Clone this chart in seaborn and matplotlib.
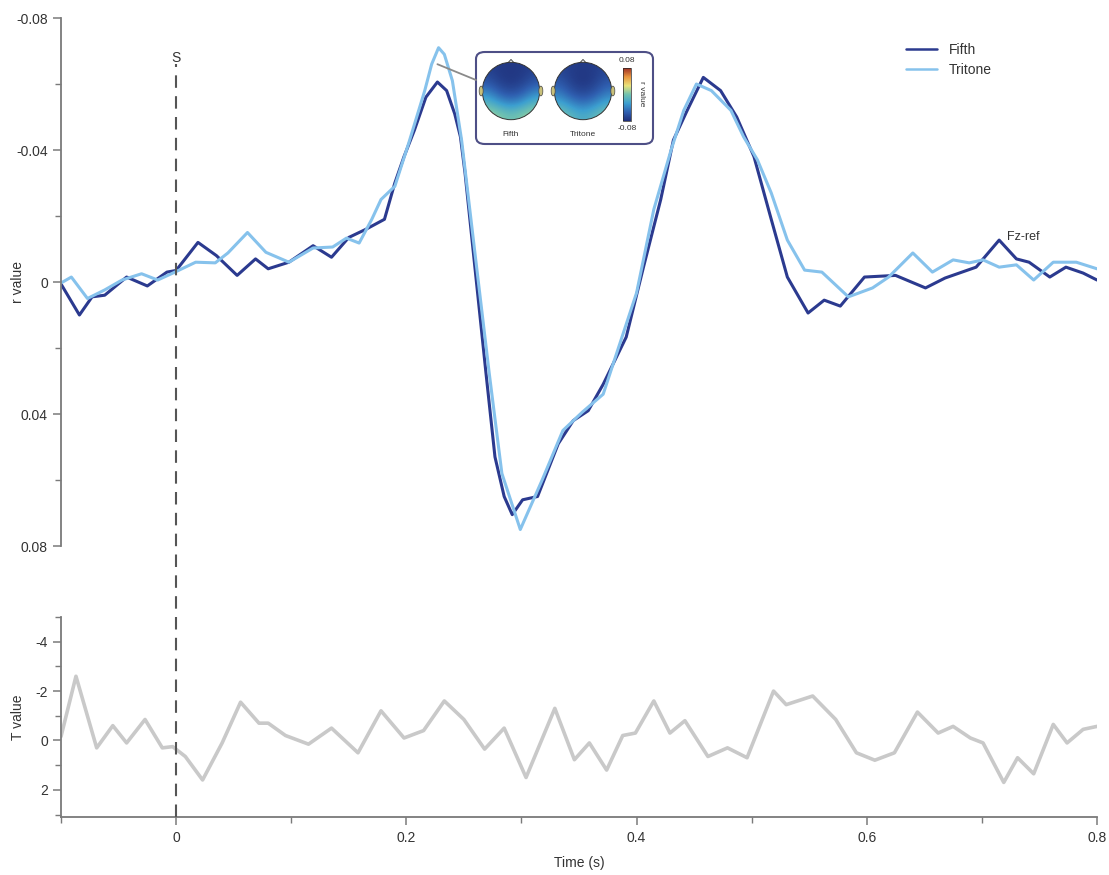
import matplotlib.pyplot as plt
import seaborn as sns
import numpy as np
import pandas as pd
from matplotlib.patches import FancyBboxPatch, Circle, Ellipse, Polygon
from matplotlib.lines import Line2D
from matplotlib.colors import LinearSegmentedColormap
from matplotlib.cm import ScalarMappable
from matplotlib.colors import Normalize

# r value curves
fifth_t = [-0.100, -0.084, -0.073, -0.062, -0.043, -0.025, -0.008, 0.000, 0.019, 0.035,
           0.053, 0.069, 0.080, 0.098, 0.119, 0.135, 0.150, 0.165, 0.181, 0.190,
           0.198, 0.207, 0.217, 0.227, 0.235, 0.242, 0.247, 0.251, 0.260, 0.269,
           0.277, 0.285, 0.292, 0.301, 0.314, 0.332, 0.345, 0.358, 0.371, 0.391,
           0.406, 0.421, 0.432, 0.444, 0.458, 0.473, 0.487, 0.502, 0.517, 0.531,
           0.549, 0.563, 0.577, 0.598, 0.625, 0.651, 0.668, 0.695, 0.715, 0.730,
           0.741, 0.759, 0.773, 0.788, 0.800]
fifth_r = [0.0006, 0.010, 0.0045, 0.004, -0.0015, 0.0012, -0.003, -0.0035, -0.012, -0.008,
           -0.002, -0.007, -0.004, -0.006, -0.011, -0.0075, -0.0135, -0.016, -0.019, -0.030,
           -0.038, -0.046, -0.056, -0.0606, -0.058, -0.051, -0.044, -0.033, -0.003, 0.027,
           0.053, 0.065, 0.0705, 0.066, 0.065, 0.049, 0.042, 0.039, 0.031, 0.0167,
           -0.0045, -0.025, -0.043, -0.052, -0.062, -0.058, -0.050, -0.038, -0.019, -0.0015,
           0.0094, 0.0055, 0.0073, -0.0015, -0.002, 0.0018, -0.0012, -0.0045, -0.0127, -0.007,
           -0.006, -0.0015, -0.0045, -0.0027, -0.0006]

tritone_t = [-0.100, -0.091, -0.077, -0.062, -0.047, -0.030, -0.016, -0.001, 0.017, 0.034,
             0.045, 0.062, 0.078, 0.098, 0.119, 0.136, 0.148, 0.159, 0.170, 0.178,
             0.190, 0.202, 0.216, 0.222, 0.228, 0.233, 0.240, 0.248, 0.260, 0.272,
             0.283, 0.299, 0.318, 0.336, 0.353, 0.371, 0.388, 0.400, 0.415, 0.430,
             0.441, 0.452, 0.465, 0.482, 0.493, 0.505, 0.517, 0.531, 0.546, 0.561,
             0.584, 0.605, 0.619, 0.640, 0.657, 0.675, 0.689, 0.701, 0.715, 0.730,
             0.745, 0.762, 0.782, 0.800]
tritone_r = [0.0003, -0.0015, 0.005, 0.0024, -0.0006, -0.0025, -0.0006, -0.003, -0.006, -0.0058,
             -0.0088, -0.015, -0.009, -0.006, -0.0103, -0.0106, -0.0133, -0.0118, -0.019, -0.025,
             -0.029, -0.042, -0.058, -0.066, -0.071, -0.069, -0.061, -0.043, -0.0076, 0.0276,
             0.058, 0.075, 0.060, 0.045, 0.0394, 0.034, 0.016, 0.0033, -0.022, -0.040,
             -0.052, -0.060, -0.058, -0.052, -0.044, -0.037, -0.027, -0.0127, -0.0036, -0.003,
             0.0045, 0.0018, -0.0015, -0.0088, -0.003, -0.0067, -0.0058, -0.0067, -0.0045, -0.0052,
             -0.0006, -0.006, -0.006, -0.004]

# T value curve
tval_t = [-0.100, -0.087, -0.069, -0.055, -0.043, -0.027, -0.012, -0.003, 0.008, 0.023,
          0.040, 0.056, 0.072, 0.080, 0.095, 0.115, 0.135, 0.158, 0.178, 0.198,
          0.215, 0.233, 0.250, 0.268, 0.285, 0.304, 0.329, 0.346, 0.359, 0.374,
          0.388, 0.399, 0.415, 0.429, 0.442, 0.462, 0.479, 0.496, 0.519, 0.530,
          0.553, 0.573, 0.591, 0.607, 0.624, 0.644, 0.662, 0.675, 0.690, 0.701,
          0.719, 0.731, 0.745, 0.762, 0.774, 0.788, 0.800]
tval = [-0.16, -2.6, 0.3, -0.6, 0.1, -0.85, 0.3, 0.25, 0.65, 1.6,
        0.1, -1.55, -0.7, -0.7, -0.2, 0.15, -0.5, 0.5, -1.2, -0.1,
        -0.4, -1.6, -0.85, 0.35, -0.5, 1.5, -1.3, 0.78, 0.1, 1.2,
        -0.2, -0.3, -1.6, -0.3, -0.8, 0.65, 0.3, 0.7, -2.0, -1.45,
        -1.8, -0.85, 0.5, 0.8, 0.5, -1.15, -0.3, -0.57, -0.1, 0.1,
        1.7, 0.7, 1.35, -0.65, 0.1, -0.45, -0.57]

# topographic maps (rough r values, rows front -> back)
topo_fifth = [[-0.070, -0.074, -0.075, -0.074, -0.070],
              [-0.062, -0.072, -0.076, -0.072, -0.062],
              [-0.040, -0.058, -0.066, -0.058, -0.040],
              [-0.012, -0.030, -0.040, -0.030, -0.012],
              [0.015, 0.006, -0.004, 0.006, 0.015]]
topo_tritone = [[-0.068, -0.072, -0.074, -0.072, -0.068],
                [-0.060, -0.072, -0.077, -0.072, -0.060],
                [-0.045, -0.062, -0.070, -0.062, -0.045],
                [-0.022, -0.038, -0.048, -0.038, -0.022],
                [0.004, -0.010, -0.020, -0.010, 0.004]]

c_fifth = '#2b3a8f'
c_tritone = '#86c2ec'
c_t = '#c9c9c9'
c_axis = '#7a7a7a'
c_text = '#333333'

sns.set_theme(style='white')
plt.rcParams['font.family'] = ['Liberation Sans', 'DejaVu Sans']
plt.rcParams['axes.unicode_minus'] = False

W, H = 1109, 875
fig = plt.figure(figsize=(W / 100, H / 100), dpi=100)


def px_axes(x0, y0, x1, y1):
    return fig.add_axes([x0 / W, 1 - y1 / H, (x1 - x0) / W, (y1 - y0) / H])


ax_top = px_axes(61, 18, 1097, 546)
ax_bot = px_axes(61, 617, 1097, 817)

df_r = pd.DataFrame({
    'time': fifth_t + tritone_t,
    'r': fifth_r + tritone_r,
    'condition': ['Fifth'] * len(fifth_t) + ['Tritone'] * len(tritone_t),
})
sns.lineplot(data=df_r, x='time', y='r', hue='condition',
             palette={'Fifth': c_fifth, 'Tritone': c_tritone},
             estimator=None, sort=True, lw=2.2, ax=ax_top)

df_t = pd.DataFrame({'time': tval_t, 'T': tval})
sns.lineplot(data=df_t, x='time', y='T', color=c_t, lw=2.6, estimator=None, ax=ax_bot)

for ax in (ax_top, ax_bot):
    ax.set_xlim(-0.1, 0.8)
    sns.despine(ax=ax, top=True, right=True)
    ax.spines['left'].set_color(c_axis)
    ax.spines['left'].set_linewidth(1.3)
    ax.tick_params(axis='both', which='both', direction='out', color=c_axis,
                   labelcolor=c_text, labelsize=10, left=True, bottom=True)
    ax.tick_params(which='major', length=6, width=1.1)
    ax.tick_params(which='minor', length=4, width=1.0)
    ax.set_facecolor('none')

# top panel
ax_top.set_ylim(0.08, -0.08)
ax_top.set_yticks([-0.08, -0.04, 0, 0.04, 0.08])
ax_top.set_yticklabels(['-0.08', '-0.04', '0', '0.04', '0.08'])
ax_top.set_yticks([-0.06, -0.02, 0.02, 0.06], minor=True)
ax_top.spines['bottom'].set_visible(False)
ax_top.set_xticks([])
ax_top.set_xlabel('')
ax_top.set_ylabel('r value', fontsize=10, color=c_text)
ax_top.yaxis.set_label_coords(-0.035, 0.5)
ax_top.text(0.722, -0.0135, 'Fz-ref', fontsize=9, color=c_text, ha='left', va='center')

handles = [Line2D([], [], color=c_fifth, lw=1.8), Line2D([], [], color=c_tritone, lw=1.8)]
ax_top.legend(handles, ['Fifth', 'Tritone'], loc='upper left',
              bbox_to_anchor=(893 / W, 1 - 30 / H), bbox_transform=fig.transFigure,
              frameon=False, fontsize=10, handlelength=2.3, labelspacing=0.45,
              labelcolor=c_text)

# bottom panel
ax_bot.set_ylim(3.1, -5.0)
ax_bot.set_yticks([-4, -2, 0, 2])
ax_bot.set_yticklabels(['-4', '-2', '0', '2'])
ax_bot.set_yticks([-5, -3, -1, 1, 3], minor=True)
ax_bot.spines['bottom'].set_color(c_axis)
ax_bot.spines['bottom'].set_linewidth(1.3)
ax_bot.set_xticks([0, 0.2, 0.4, 0.6, 0.8])
ax_bot.set_xticklabels(['0', '0.2', '0.4', '0.6', '0.8'])
ax_bot.set_xticks([-0.1, 0.1, 0.3, 0.5, 0.7], minor=True)
ax_bot.set_xlabel('Time (s)', fontsize=10, color=c_text, labelpad=8)
ax_bot.set_ylabel('T value', fontsize=10, color=c_text)
ax_bot.yaxis.set_label_coords(-0.035, 0.5)
ax_bot.tick_params(axis='x', which='major', pad=4)

# stimulus onset dashed line across both panels
to_fig = fig.transFigure.inverted()
x0_fig, _ = to_fig.transform(ax_top.transData.transform((0, 0)))
_, y_lo = to_fig.transform(ax_bot.transData.transform((0, 3.1)))
fig.add_artist(Line2D([x0_fig, x0_fig], [y_lo, 1 - 64 / H], transform=fig.transFigure,
                      color='#555555', lw=1.5, ls=(0, (6, 4))))
fig.text(x0_fig, 1 - 58 / H, 'S', ha='center', va='center', fontsize=10, color=c_text)

# inset with scalp maps
box = FancyBboxPatch((476 / W, 1 - 144 / H), 177 / W, 92 / H, transform=fig.transFigure,
                     boxstyle='round,pad=0,rounding_size=0.008', fc='white',
                     ec='#4e4f86', lw=1.5, zorder=5)
fig.add_artist(box)
px, py = to_fig.transform(ax_top.transData.transform((0.227, -0.066)))
fig.add_artist(Line2D([px, 476 / W], [py, 1 - 80 / H], transform=fig.transFigure,
                      color='#8a8a8a', lw=1.3, zorder=6))

topo_cmap = LinearSegmentedColormap.from_list(
    'topo', ['#1f2f7a', '#2f5fb0', '#3c9fd0', '#70c2b0', '#e9e37a', '#e8953e', '#9c2f25'])

for topo, cx, label in ((topo_fifth, 511, 'Fifth'), (topo_tritone, 583, 'Tritone')):
    hax = px_axes(cx - 33, 58, cx + 33, 124)
    hax.set_zorder(7)
    hax.set_xlim(-1.15, 1.15)
    hax.set_ylim(-1.15, 1.15)
    hax.set_aspect('equal')
    hax.axis('off')
    im = hax.imshow(np.array(topo), cmap=topo_cmap, vmin=-0.08, vmax=0.08,
                    extent=(-1, 1, -1, 1), interpolation='bicubic')
    clip = Circle((0, 0), 1.0, transform=hax.transData)
    im.set_clip_path(clip)
    hax.add_patch(Circle((0, 0), 1.0, fc='none', ec='#333333', lw=0.7))
    for sx in (-1, 1):
        hax.add_patch(Ellipse((sx * 1.04, 0), 0.14, 0.34, fc='#c8c07a', ec='#444444', lw=0.5))
    hax.add_patch(Polygon([[-0.1, 0.99], [0, 1.1], [0.1, 0.99]], closed=False,
                          fc='none', ec='#333333', lw=0.6))
    fig.text(cx / W, 1 - 135 / H, label, ha='center', va='center', fontsize=6,
             color=c_text, zorder=8)

cax = px_axes(623, 68, 631, 121)
cax.set_zorder(7)
cb = fig.colorbar(ScalarMappable(norm=Normalize(-0.08, 0.08), cmap=topo_cmap), cax=cax)
cb.set_ticks([])
cb.outline.set_linewidth(0.5)
fig.text(627 / W, 1 - 61 / H, '0.08', ha='center', va='center', fontsize=6, color=c_text, zorder=8)
fig.text(627 / W, 1 - 128 / H, '-0.08', ha='center', va='center', fontsize=6, color=c_text, zorder=8)
fig.text(642 / W, 1 - 94 / H, 'r value', ha='center', va='center', fontsize=6,
         rotation=270, color=c_text, zorder=8)

fig.savefig('out.png', dpi=100)
